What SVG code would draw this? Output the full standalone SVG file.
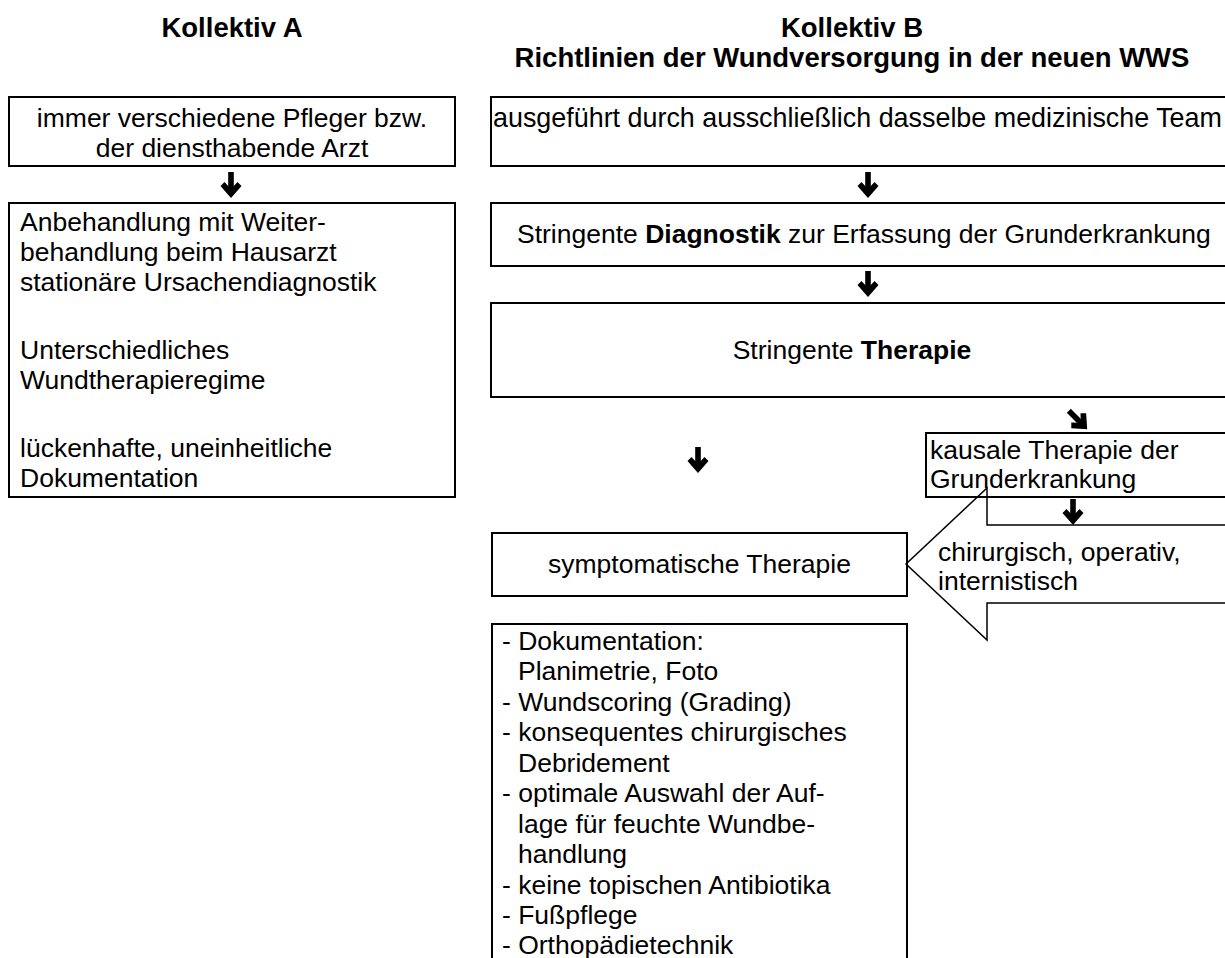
<svg xmlns="http://www.w3.org/2000/svg" width="1225" height="958" viewBox="0 0 1225 958">
<defs>
<style>
text{font-family:"Liberation Sans",Arial,sans-serif;font-size:26.5px;fill:#000}
.h{font-weight:bold}
.hd{font-size:27.5px;font-weight:bold}
.c{text-anchor:middle}
.box{fill:#fff;stroke:#000;stroke-width:2}
.arr{fill:#000}
</style>
<g id="dn">
<rect x="-2.8" y="0" width="5.6" height="20"/>
<polygon points="-10.5,14 -6.5,10 0,17 6.5,10 10.5,14 0,26"/>
</g>
</defs>
<rect width="1225" height="958" fill="#fff"/>
<g id="headers">
<text class="hd c" x="232" y="37">Kollektiv A</text>
<text class="hd c" x="852" y="37">Kollektiv B</text>
<text class="hd c" x="852" y="67">Richtlinien der Wundversorgung in der neuen WWS</text>
</g>
<g id="nodeA1">
<rect class="box" x="9" y="97" width="446" height="69"/>
<text class="c" x="232" y="127">immer verschiedene Pfleger bzw.</text>
<text class="c" x="232" y="157">der diensthabende Arzt</text>
</g>
<g id="nodeA2">
<rect class="box" x="9" y="203" width="446" height="294"/>
<text x="20" y="231">Anbehandlung mit Weiter-</text>
<text x="20" y="261">behandlung beim Hausarzt</text>
<text x="20" y="291">stationäre Ursachendiagnostik</text>
<text x="20" y="359">Unterschiedliches</text>
<text x="20" y="389">Wundtherapieregime</text>
<text x="20" y="457">lückenhafte, uneinheitliche</text>
<text x="20" y="487">Dokumentation</text>
</g>
<g id="nodeB1">
<rect class="box" x="491" y="97" width="760" height="69"/>
<text x="493" y="127" style="font-size:26.9px">ausgeführt durch ausschließlich dasselbe medizinische Team</text>
</g>
<g id="nodeB2">
<rect class="box" x="491" y="203" width="760" height="63"/>
<text x="517" y="243">Stringente <tspan class="h">Diagnostik</tspan> zur Erfassung der Grunderkrankung</text>
</g>
<g id="nodeB3">
<rect class="box" x="491" y="303" width="760" height="94"/>
<text class="c" x="852" y="359">Stringente <tspan class="h">Therapie</tspan></text>
</g>
<g id="nodeKausal">
<rect class="box" x="926" y="433" width="320" height="64"/>
<text x="930" y="459">kausale Therapie der</text>
<text x="930" y="488">Grunderkrankung</text>
</g>
<g id="nodeSymptom">
<rect class="box" x="492" y="533" width="415" height="63"/>
<text class="c" x="699.5" y="573">symptomatische Therapie</text>
</g>
<g id="nodeList">
<rect class="box" x="492" y="624" width="415" height="360"/>
<text x="502" y="650">- Dokumentation:</text>
<text x="518" y="680">Planimetrie, Foto</text>
<text x="502" y="711">- Wundscoring (Grading)</text>
<text x="502" y="741">- konsequentes chirurgisches</text>
<text x="518" y="772">Debridement</text>
<text x="502" y="802">- optimale Auswahl der Auf-</text>
<text x="518" y="833">lage für feuchte Wundbe-</text>
<text x="518" y="863">handlung</text>
<text x="502" y="894">- keine topischen Antibiotika</text>
<text x="502" y="924">- Fußpflege</text>
<text x="502" y="954">- Orthopädietechnik</text>
</g>
<g id="nodeBlockArrow">
<polygon points="1240,525 987,525 987,488 906,564 987,640 987,603 1240,603" fill="none" stroke="#000" stroke-width="1.5"/>
<text x="938" y="561">chirurgisch, operativ,</text>
<text x="938" y="590">internistisch</text>
</g>
<g id="connectors" class="arr">
<use href="#dn" x="231" y="172"/>
<use href="#dn" x="868" y="172"/>
<use href="#dn" x="868" y="271"/>
<use href="#dn" x="698" y="447"/>
<use href="#dn" transform="translate(1078,420) rotate(-45) translate(0,-13)"/>
<use href="#dn" x="1073" y="499"/>
</g>
</svg>
